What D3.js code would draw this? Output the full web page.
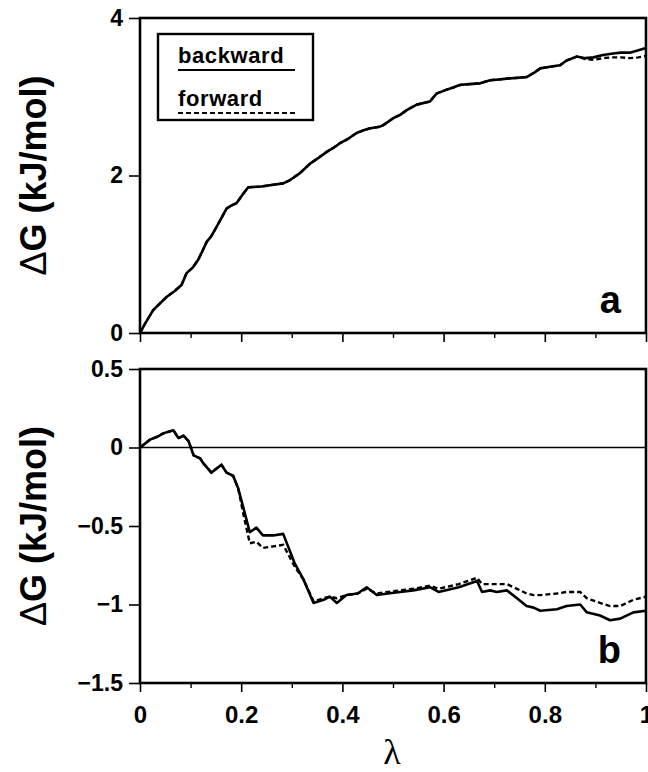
<!DOCTYPE html>
<html>
<head>
<meta charset="utf-8">
<script src="https://cdn.jsdelivr.net/npm/d3@7"></script>
<style>
  body { margin: 0; background: #fff; }
  svg { display: block; }
</style>
</head>
<body>
<svg id="chart" width="648" height="772"></svg>
<script>
// lambda values and free energy (kJ/mol)
const lambdaA = [0, 0.01, 0.026, 0.04, 0.053, 0.068, 0.082, 0.092, 0.104, 0.115, 0.124, 0.132, 0.14, 0.148, 0.16, 0.171, 0.181, 0.191, 0.203, 0.214, 0.24, 0.26, 0.283, 0.296, 0.316, 0.336, 0.352, 0.369, 0.382, 0.395, 0.41, 0.428, 0.44, 0.455, 0.474, 0.481, 0.501, 0.514, 0.527, 0.547, 0.573, 0.586, 0.606, 0.62, 0.632, 0.65, 0.672, 0.692, 0.71, 0.725, 0.745, 0.764, 0.78, 0.791, 0.81, 0.83, 0.843, 0.863, 0.88, 0.896, 0.915, 0.935, 0.95, 0.968, 0.985, 1.0];
const backwardA = [0, 0.12, 0.29, 0.38, 0.46, 0.53, 0.61, 0.76, 0.83, 0.93, 1.05, 1.16, 1.22, 1.31, 1.45, 1.58, 1.62, 1.65, 1.76, 1.85, 1.86, 1.88, 1.9, 1.94, 2.03, 2.15, 2.22, 2.3, 2.35, 2.41, 2.46, 2.54, 2.57, 2.6, 2.62, 2.64, 2.73, 2.77, 2.83, 2.9, 2.94, 3.04, 3.09, 3.12, 3.15, 3.16, 3.17, 3.21, 3.22, 3.23, 3.24, 3.25, 3.31, 3.36, 3.38, 3.4, 3.46, 3.51, 3.49, 3.5, 3.53, 3.55, 3.56, 3.56, 3.59, 3.62];
const forwardA = [0, 0.12, 0.29, 0.38, 0.46, 0.53, 0.61, 0.76, 0.83, 0.93, 1.05, 1.16, 1.22, 1.31, 1.45, 1.58, 1.62, 1.65, 1.76, 1.85, 1.86, 1.88, 1.9, 1.94, 2.03, 2.15, 2.22, 2.3, 2.35, 2.41, 2.46, 2.54, 2.57, 2.6, 2.62, 2.64, 2.73, 2.77, 2.83, 2.9, 2.94, 3.04, 3.09, 3.12, 3.15, 3.16, 3.17, 3.21, 3.22, 3.23, 3.24, 3.25, 3.31, 3.36, 3.38, 3.4, 3.46, 3.51, 3.48, 3.47, 3.49, 3.5, 3.5, 3.49, 3.5, 3.52];

const lambdaB = [0, 0.02, 0.035, 0.046, 0.056, 0.066, 0.076, 0.086, 0.096, 0.106, 0.119, 0.125, 0.141, 0.161, 0.171, 0.184, 0.194, 0.204, 0.217, 0.23, 0.243, 0.263, 0.283, 0.306, 0.323, 0.343, 0.363, 0.375, 0.389, 0.408, 0.43, 0.448, 0.468, 0.49, 0.514, 0.54, 0.573, 0.59, 0.63, 0.666, 0.676, 0.692, 0.705, 0.725, 0.745, 0.764, 0.778, 0.791, 0.824, 0.843, 0.87, 0.883, 0.909, 0.929, 0.949, 0.975, 1.0];
const backwardB = [0, 0.05, 0.07, 0.09, 0.1, 0.11, 0.06, 0.075, 0.04, -0.05, -0.07, -0.1, -0.16, -0.11, -0.16, -0.18, -0.26, -0.38, -0.54, -0.51, -0.56, -0.56, -0.55, -0.74, -0.84, -0.99, -0.97, -0.95, -0.99, -0.94, -0.93, -0.89, -0.94, -0.93, -0.92, -0.91, -0.89, -0.92, -0.89, -0.85, -0.92, -0.91, -0.92, -0.91, -0.96, -1.01, -1.02, -1.04, -1.03, -1.01, -1.0, -1.05, -1.07, -1.1, -1.09, -1.05, -1.04];
const forwardB = [0, 0.05, 0.07, 0.09, 0.1, 0.11, 0.06, 0.075, 0.04, -0.05, -0.07, -0.1, -0.16, -0.11, -0.16, -0.18, -0.26, -0.42, -0.61, -0.6, -0.64, -0.63, -0.62, -0.76, -0.84, -0.98, -0.96, -0.95, -0.96, -0.94, -0.93, -0.9, -0.93, -0.92, -0.91, -0.9, -0.88, -0.9, -0.87, -0.83, -0.87, -0.87, -0.87, -0.87, -0.9, -0.93, -0.94, -0.94, -0.93, -0.92, -0.92, -0.96, -0.99, -1.01, -1.01, -0.97, -0.95];

const xTicks = [0, 0.2, 0.4, 0.6, 0.8, 1];
const xMinorTicks = [0.1, 0.3, 0.5, 0.7, 0.9];
const yTicksA = [0, 2, 4];
const yTicksB = [0.5, 0, -0.5, -1, -1.5];

const font = "'Liberation Sans', Arial, Helvetica, sans-serif";
const svg = d3.select("#chart");

const x = d3.scaleLinear().domain([0, 1]).range([140, 646]);
const yA = d3.scaleLinear().domain([0, 4]).range([333, 18]);
const yB = d3.scaleLinear().domain([-1.5, 0.5]).range([683, 369]);

const fmt = (d) => (d === 0 ? "0" : d3.format("")(d));

function panel(y, yTicks, lam, back, fwd, letter, xLabels) {
  const g = svg.append("g");
  const [top, bottom] = [y.range()[1], y.range()[0]];

  // left axis
  g.append("g")
    .attr("transform", `translate(${x(0)},0)`)
    .call(d3.axisLeft(y).tickValues(yTicks).tickSize(11).tickPadding(6).tickFormat(fmt))
    .call((a) => a.select(".domain").remove())
    .call((a) => a.selectAll("line").attr("stroke-width", 1.6))
    .call((a) => a.selectAll("text").style("font", `bold 23px ${font}`).attr("fill", "#000"));

  // bottom axis (major + minor ticks)
  g.append("g").attr("transform", `translate(0,${bottom})`)
    .call(d3.axisBottom(x).tickValues(xTicks).tickSize(9).tickPadding(14).tickFormat(xLabels ? fmt : () => ""))
    .call((a) => a.select(".domain").remove())
    .call((a) => a.selectAll("line").attr("stroke-width", 1.6))
    .call((a) => a.selectAll("text").style("font", `bold 24px ${font}`).attr("fill", "#000"));
  g.append("g").attr("transform", `translate(0,${bottom})`)
    .call(d3.axisBottom(x).tickValues(xMinorTicks).tickSize(5).tickFormat(() => ""))
    .call((a) => a.select(".domain").remove())
    .call((a) => a.selectAll("line").attr("stroke-width", 1.4));

  // frame
  g.append("rect")
    .attr("x", x(0)).attr("y", top)
    .attr("width", x(1) - x(0)).attr("height", bottom - top)
    .attr("fill", "none").attr("stroke", "#000").attr("stroke-width", 2.6);

  // zero line for panel b
  if (y.domain()[0] < 0) {
    g.append("line")
      .attr("x1", x(0)).attr("x2", x(1))
      .attr("y1", y(0)).attr("y2", y(0))
      .attr("stroke", "#000").attr("stroke-width", 1.4);
  }

  const line = d3.line().x((d) => x(d[0])).y((d) => y(d[1]));
  g.append("path")
    .datum(lam.map((l, i) => [l, fwd[i]]))
    .attr("d", line)
    .attr("fill", "none").attr("stroke", "#000")
    .attr("stroke-width", 2.4).attr("stroke-dasharray", "5,3");
  g.append("path")
    .datum(lam.map((l, i) => [l, back[i]]))
    .attr("d", line)
    .attr("fill", "none").attr("stroke", "#000")
    .attr("stroke-width", 2.6).attr("stroke-linejoin", "round");

  // panel letter
  g.append("text")
    .attr("x", 621).attr("y", bottom - 20)
    .attr("text-anchor", "end")
    .style("font", `bold 38px ${font}`)
    .text(letter);

  // y label
  const yl = g.append("text")
    .attr("transform", `translate(46,${(top + bottom) / 2}) rotate(-90)`)
    .attr("text-anchor", "middle")
    .style("font", `bold 36px ${font}`);
  yl.append("tspan").style("font-weight", "normal").text("\u0394");
  yl.append("tspan").text("G (kJ/mol)");
  return g;
}

panel(yA, yTicksA, lambdaA, backwardA, forwardA, "a", false);
panel(yB, yTicksB, lambdaB, backwardB, forwardB, "b", true);

// legend
const legend = svg.append("g");
legend.append("rect")
  .attr("x", 158).attr("y", 34).attr("width", 155).attr("height", 86)
  .attr("fill", "#fff").attr("stroke", "#000").attr("stroke-width", 2.4);
const legendItems = [
  { name: "backward", dash: null, y: 63 },
  { name: "forward", dash: "5,3", y: 106 },
];
legendItems.forEach((d) => {
  legend.append("text").attr("x", 178).attr("y", d.y)
    .style("font", `bold 22px ${font}`).style("letter-spacing", "0.6px").text(d.name);
  legend.append("line")
    .attr("x1", 178).attr("x2", 295).attr("y1", d.y + 7).attr("y2", d.y + 7)
    .attr("stroke", "#000").attr("stroke-width", 2.2)
    .attr("stroke-dasharray", d.dash);
});

// x label
svg.append("text")
  .attr("x", 392).attr("y", 764)
  .attr("text-anchor", "middle")
  .style("font", "36px 'Liberation Serif', 'Times New Roman', serif")
  .text("\u03bb");
</script>
</body>
</html>
